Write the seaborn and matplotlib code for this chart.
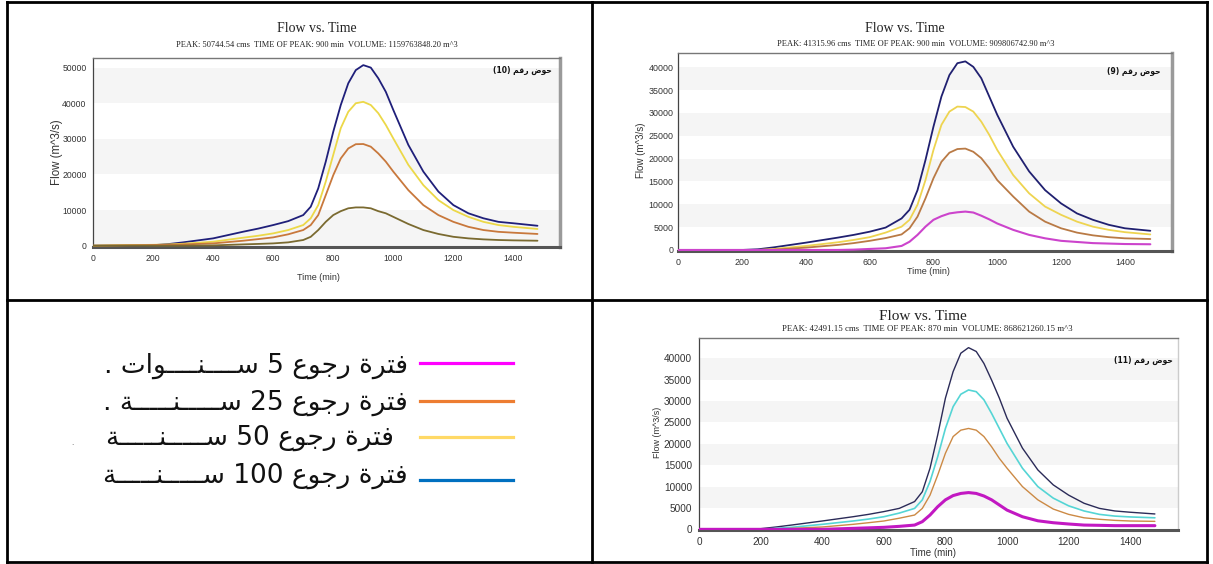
import numpy as np
import pandas as pd
import matplotlib
matplotlib.use("Agg")
import matplotlib.pyplot as plt
import seaborn as sns
from matplotlib.lines import Line2D
from matplotlib.ticker import MultipleLocator

# ---------------- data ----------------
TIME = [0, 100, 200, 250, 300, 400, 500, 550, 600, 650, 700, 725, 750, 775, 800, 825,
        850, 875, 900, 925, 950, 975, 1000, 1050, 1100, 1150, 1200, 1250, 1300, 1350, 1400, 1480]

# basin 10 (top-left)
B10_100 = [0, 50, 150, 450, 940, 2060, 3930, 4800, 5800, 6900, 8600, 10950, 16100, 23600, 32000, 39500,
           45600, 49300, 50700, 50000, 47000, 43200, 38100, 28300, 20800, 15200, 11400, 9100, 7700, 6700, 6300, 5600]
B10_50 = [0, 150, 250, 350, 550, 1120, 2250, 2800, 3460, 4400, 5800, 7700, 11400, 18000, 25500, 33000,
          37600, 40000, 40400, 39500, 37200, 33900, 30100, 22700, 17000, 12800, 10000, 8100, 6700, 5800, 5300, 4700]
B10_25 = [0, 100, 200, 250, 350, 650, 1400, 1850, 2340, 3200, 4400, 5800, 8600, 14200, 19800, 24500,
          27300, 28500, 28550, 27800, 25900, 23600, 20800, 15600, 11400, 8600, 6700, 5300, 4400, 3900, 3650, 3300]
B10_5 = [0, 0, 0, 0, 0, 90, 370, 500, 650, 940, 1600, 2500, 4400, 6700, 8600, 9700,
         10500, 10750, 10750, 10500, 9700, 9100, 8100, 6100, 4400, 3300, 2500, 2060, 1780, 1600, 1500, 1400]

# basin 9 (top-right)
B9_100 = [0, 0, 0, 150, 580, 1600, 2700, 3300, 4000, 4900, 6900, 8800, 13100, 19700, 27000, 33600,
          38300, 40900, 41300, 40100, 37600, 33600, 29600, 22600, 17200, 13100, 10200, 8000, 6600, 5500, 4750, 4200]
B9_50 = [0, 0, 0, 0, 220, 880, 1680, 2200, 2800, 3800, 5100, 6600, 9900, 15300, 21900, 27400,
         30300, 31400, 31300, 30300, 28100, 25200, 21900, 16400, 12400, 9500, 7700, 6200, 5100, 4400, 3900, 3400]
B9_25 = [0, 0, 0, 0, 70, 510, 1100, 1500, 2000, 2600, 3400, 4750, 7300, 11300, 15700, 19300,
         21300, 22100, 22200, 21500, 20100, 17900, 15300, 11700, 8400, 6200, 4750, 3800, 3200, 2800, 2550, 2400]
B9_5 = [0, 0, 0, 0, 0, 0, 0, 70, 220, 370, 880, 1800, 3300, 5100, 6600, 7400,
        8000, 8250, 8400, 8200, 7500, 6700, 5800, 4400, 3300, 2550, 2000, 1750, 1500, 1400, 1300, 1250]

# basin 11 (bottom-right)
B11_100 = [0, 0, 150, 550, 1000, 1950, 2950, 3500, 4150, 4900, 6500, 8800, 14300, 22100, 30700, 36900,
           41200, 42500, 41600, 38800, 34900, 30700, 26000, 19000, 13900, 10400, 8000, 6100, 4900, 4300, 4000, 3600]
B11_50 = [0, 0, 0, 230, 470, 1170, 1950, 2400, 2950, 3800, 4900, 6900, 11200, 17000, 23600, 28700,
          31600, 32600, 32200, 30300, 27100, 23600, 20100, 14300, 10000, 7300, 5500, 4300, 3500, 3100, 2900, 2700]
B11_25 = [0, 0, 0, 0, 230, 550, 1170, 1550, 1950, 2600, 3350, 4900, 8000, 12700, 17800, 21700,
          23200, 23600, 23200, 21700, 19300, 16600, 14300, 10000, 6900, 4750, 3500, 2700, 2350, 2100, 1950, 1870]
B11_5 = [0, 0, 0, 0, 0, 0, 230, 350, 470, 700, 1000, 1800, 3350, 5300, 6900, 7900,
         8400, 8600, 8400, 7800, 6900, 5700, 4500, 2950, 2000, 1550, 1250, 1000, 940, 860, 860, 860]

SUBTITLES = [
    "PEAK: 50744.54 cms  TIME OF PEAK: 900 min  VOLUME: 1159763848.20 m^3",
    "PEAK: 41315.96 cms  TIME OF PEAK: 900 min  VOLUME: 909806742.90 m^3",
    "PEAK: 42491.15 cms  TIME OF PEAK: 870 min  VOLUME: 868621260.15 m^3",
]
BASIN_LABELS = ["حوض رقم (10)", "حوض رقم (9)", "حوض رقم (11)"]
LEGEND_LABELS = ["فترة رجوع 5 ســــنــــوات .", "فترة رجوع 25 ســـــنـــــة .",
                 "فترة رجوع 50 ســـــنـــــة", "فترة رجوع 100 ســـــنـــــة"]
XTICKS = [0, 200, 400, 600, 800, 1000, 1200, 1400]

# ---------------- Arabic shaping (presentation forms + visual order) ----------------
FORMS = {
    'ا': ('\uFE8D', '\uFE8E', None, None),
    'ت': ('\uFE95', '\uFE96', '\uFE97', '\uFE98'),
    'ة': ('\uFE93', '\uFE94', None, None),
    'ج': ('\uFE9D', '\uFE9E', '\uFE9F', '\uFEA0'),
    'ح': ('\uFEA1', '\uFEA2', '\uFEA3', '\uFEA4'),
    'ر': ('\uFEAD', '\uFEAE', None, None),
    'س': ('\uFEB1', '\uFEB2', '\uFEB3', '\uFEB4'),
    'ض': ('\uFEBD', '\uFEBE', '\uFEBF', '\uFEC0'),
    'ع': ('\uFEC9', '\uFECA', '\uFECB', '\uFECC'),
    'ف': ('\uFED1', '\uFED2', '\uFED3', '\uFED4'),
    'ق': ('\uFED5', '\uFED6', '\uFED7', '\uFED8'),
    'م': ('\uFEE1', '\uFEE2', '\uFEE3', '\uFEE4'),
    'ن': ('\uFEE5', '\uFEE6', '\uFEE7', '\uFEE8'),
    'و': ('\uFEED', '\uFEEE', None, None),
    'ـ': ('\u0640', '\u0640', '\u0640', '\u0640'),
}


def shape(text):
    chars = list(text)
    dual = lambda c: c in FORMS and FORMS[c][2] is not None
    out = []
    for i, c in enumerate(chars):
        if c not in FORMS:
            out.append(c)
            continue
        prev = chars[i - 1] if i > 0 else ''
        nxt = chars[i + 1] if i + 1 < len(chars) else ''
        jp = dual(prev)
        jn = dual(c) and nxt in FORMS
        iso, fin, ini, med = FORMS[c]
        out.append(med if (jp and jn) else fin if jp else ini if jn else iso)
    vis = out[::-1]
    res, i = [], 0
    while i < len(vis):
        if vis[i].isdigit():
            j = i
            while j < len(vis) and vis[j].isdigit():
                j += 1
            res.extend(vis[i:j][::-1])
            i = j
        else:
            res.append({'(': ')', ')': '('}.get(vis[i], vis[i]))
            i += 1
    return ''.join(res)


# ---------------- figure ----------------
sns.set_style("white")
plt.rcParams['font.family'] = ['Liberation Sans', 'DejaVu Sans']
W, H = 1213, 564
fig = plt.figure(figsize=(W / 100, H / 100), dpi=100)


def px_rect(l, t, r, b):
    return [l / W, 1 - b / H, (r - l) / W, (b - t) / H]


def fline(x0, y0, x1, y1, lw=2.0, color='black'):
    fig.add_artist(Line2D([x0 / W, x1 / W], [1 - y0 / H, 1 - y1 / H], transform=fig.transFigure,
                          color=color, lw=lw, solid_capstyle='projecting'))


# table borders
fline(7, 2, 1207, 2)
fline(7, 562, 1207, 562)
fline(7, 2, 7, 562)
fline(1207, 2, 1207, 562)
fline(592, 2, 592, 562)
fline(7, 300, 1207, 300)

panels = [
    dict(rect=(93, 58, 560, 246.6), xmax=1555, ylim=(-250, 52700), band=10000, ystep=10000, yminor=5000,
         series=[B10_100, B10_50, B10_25, B10_5],
         colors=['#1f1f7a', '#ecd848', '#c8783c', '#7a6a30'], lws=[1.3, 1.3, 1.3, 1.3],
         title=(317, 28, 10), sub=(317, 45, 6.0), tick_fs=6.2, ytl=4, ypad=0.6,
         xlab=(318, 277, 6.5), ylab=(57, 152, 8.3), basin=(552, 70), right_spine=('#9a9a9a', 2.5)),
    dict(rect=(678.3, 52.7, 1171.7, 251.1), xmax=1547, ylim=(-250, 43200), band=5000, ystep=5000, yminor=1000,
         series=[B9_100, B9_50, B9_25, B9_5],
         colors=['#202070', '#eed450', '#b97a45', '#cc44cc'], lws=[1.3, 1.3, 1.3, 1.5],
         title=(905, 29, 10), sub=(916, 44, 6.0), tick_fs=6.4, ytl=3, ypad=0.5,
         xlab=(928, 271, 6.5), ylab=(641, 150, 7), basin=(1161, 71), right_spine=('#9a9a9a', 2.5)),
    dict(rect=(699, 337.8, 1178.3, 530.2), xmax=1556, ylim=(-200, 44800), band=5000, ystep=5000, yminor=1000,
         series=[B11_100, B11_50, B11_25, B11_5],
         colors=['#2b2b58', '#55d5d5', '#cc8a45', '#c218c2'], lws=[1.0, 1.2, 1.0, 2.2],
         title=(923, 317, 11), sub=(927, 329, 6.3), tick_fs=7.2, ytl=2, ypad=3,
         xlab=(933, 553, 7), ylab=(658, 432, 6.5), basin=(1173, 360), right_spine=('#cccccc', 1.0)),
]

for idx, p in enumerate(panels):
    l, t, r, b = p['rect']
    ax = fig.add_axes(px_rect(l, t, r, b))
    ax.set_facecolor('white')
    y0, y1 = p['ylim']
    lo, k = 0, 0
    while lo < y1:
        if (p['band'] == 10000 and k % 2 == 0) or (p['band'] == 5000 and k % 2 == 1):
            ax.axhspan(lo, lo + p['band'], color='#f5f5f5', lw=0, zorder=0)
        lo += p['band']
        k += 1
    for vals, col, lw in zip(p['series'], p['colors'], p['lws']):
        df = pd.DataFrame({'Time': TIME, 'Flow': vals})
        sns.lineplot(data=df, x='Time', y='Flow', ax=ax, color=col, lw=lw, zorder=3)
    ax.set_xlim(0, p['xmax'])
    ax.set_ylim(y0, y1)
    ax.set_xticks(XTICKS)
    ax.xaxis.set_minor_locator(MultipleLocator(50))
    ax.yaxis.set_major_locator(MultipleLocator(p['ystep']))
    ax.yaxis.set_minor_locator(MultipleLocator(p['yminor']))
    ax.set_xlabel('')
    ax.set_ylabel('')
    for lab in ax.get_xticklabels() + ax.get_yticklabels():
        lab.set_fontsize(p['tick_fs'])
        lab.set_color('#333333')
    ax.tick_params(axis='x', which='major', direction='inout', length=8, width=1, color='#222', pad=1)
    ax.tick_params(axis='x', which='minor', direction='in', length=4, width=0.8, color='#444')
    ax.tick_params(axis='y', which='major', direction='out', length=p['ytl'], width=0.8, color='#555', pad=p['ypad'])
    ax.tick_params(axis='y', which='minor', direction='out', length=p['ytl'] * 0.6, width=0.6, color='#888')
    ax.spines['left'].set_color('#444')
    ax.spines['left'].set_lw(0.9)
    ax.spines['bottom'].set_color('#555')
    ax.spines['bottom'].set_lw(2.2)
    ax.spines['top'].set_color('#777')
    ax.spines['top'].set_lw(1.0)
    ax.spines['right'].set_color(p['right_spine'][0])
    ax.spines['right'].set_lw(p['right_spine'][1])
    tx, ty, tfs = p['title']
    fig.text(tx / W, 1 - ty / H, 'Flow vs. Time', ha='center', va='center', fontsize=tfs,
             family=['Liberation Serif'], color='#222')
    sx, sy, sfs = p['sub']
    fig.text(sx / W, 1 - sy / H, SUBTITLES[idx], ha='center', va='center', fontsize=sfs,
             family=['Liberation Serif'], color='#222')
    xx, xy, xfs = p['xlab']
    fig.text(xx / W, 1 - xy / H, 'Time (min)', ha='center', va='center', fontsize=xfs, color='#333')
    yx, yy, yfs = p['ylab']
    fig.text(yx / W, 1 - yy / H, 'Flow (m^3/s)', ha='center', va='center', fontsize=yfs, rotation=90, color='#333')
    bx, by = p['basin']
    fig.text(bx / W, 1 - by / H, shape(BASIN_LABELS[idx]), ha='right', va='center', fontsize=5.5,
             family=['DejaVu Sans'], weight='bold', color='#111')

# legend panel (bottom-left)
LEG_COLORS = ['#ff00ff', '#ed7d31', '#ffd966', '#0070c0']
LEG_ROWS = [363, 401, 437, 480]
TEXT_BASE = [373, 410, 445, 483]
TEXT_RIGHT = [408, 408, 394, 408]
for lab, col, yrow, yb, xr in zip(LEGEND_LABELS, LEG_COLORS, LEG_ROWS, TEXT_BASE, TEXT_RIGHT):
    fline(420, yrow, 513, yrow, lw=2.3, color=col)
    fig.text(xr / W, 1 - yb / H, shape(lab), ha='right', va='baseline', fontsize=19,
             family=['DejaVu Sans'], color='#111')
fig.text(72 / W, 1 - 445 / H, '.', ha='center', va='baseline', fontsize=6, color='#555')

fig.savefig('out.png', dpi=100)
